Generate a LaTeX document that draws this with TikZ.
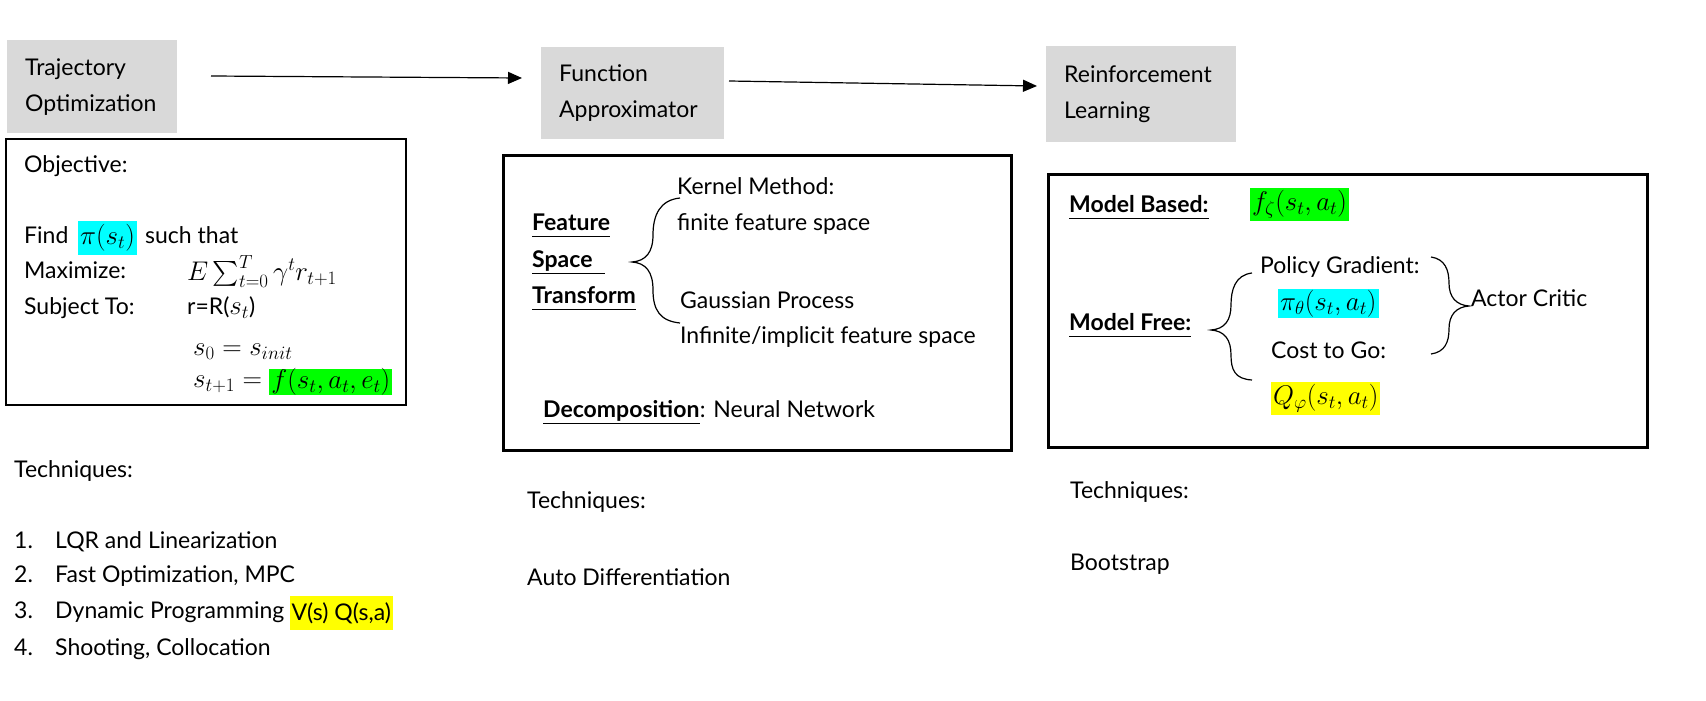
\RequirePackage{fix-cm}
\documentclass[tikz,border=0pt]{standalone}
\usepackage{amsmath}
\usepackage[no-math]{fontspec}
\setmainfont{Lato}
\usetikzlibrary{arrows.meta,positioning}

\definecolor{boxgray}{HTML}{D9D9D9}
\definecolor{hlcyan}{HTML}{00FFFF}
\definecolor{hlgreen}{HTML}{00FF00}
\definecolor{hlyellow}{HTML}{FFFF00}
\newcommand{\mainsize}{\fontsize{23}{36}\selectfont}
\newcommand{\mathsize}{\fontsize{27}{36}\selectfont}

\begin{document}
\begin{tikzpicture}[x=1pt,y=-1pt,font=\mainsize,
	txt/.style={anchor=west, inner sep=0pt, text height=16pt, text depth=5pt},
	bold/.style={txt, font=\mainsize\bfseries},
	mth/.style={txt, font=\mathsize},
	head/.style={fill=boxgray, anchor=north west, inner xsep=18pt, inner ysep=0pt, align=left},
	hl/.style={fill=#1, anchor=west, inner xsep=2pt, inner ysep=0pt},
	flow/.style={line width=1.2pt, -{Triangle[length=14pt,width=12pt]}},
	frame/.style={line width=#1},
	brace/.style={line width=1.2pt},
	ul/.style={line width=1.2pt}]

	\useasboundingbox (0,0) rectangle (1706,701);

	% headings
	\node[head, text width=134pt, minimum width=170pt, minimum height=93pt] (traj) at (7,40) {Trajectory\\Optimization};
	\node[head, text width=147pt, minimum width=183pt, minimum height=92pt] (func) at (541,47) {Function\\Approximator};
	\node[head, text width=154pt, minimum width=190pt, minimum height=96pt] (rl) at (1046,46) {Reinforcement\\Learning};

	% arrows between headings
	\coordinate (a1s) at (211,76);
	\coordinate (a1e) at (522,78);
	\coordinate (a2s) at (729,81);
	\coordinate (a2e) at (1037,86);
	\draw[flow] (a1s) -- (a1e);
	\draw[flow] (a2s) -- (a2e);

	% frames
	\draw[frame=2pt] (6,139) rectangle (406,405);
	\draw[frame=3pt] (503,155) rectangle (1011,450);
	\draw[frame=3pt] (1048,174) rectangle (1647,447);

	% trajectory optimization
	\node[txt] (obj) at (24,167) {Objective:};
	\node[txt] (find) at (24,238) {Find};
	\node[hl=hlcyan, font=\mathsize, minimum width=55pt, minimum height=34pt] (pis) at (78,238) {$\pi(s_t)$};
	\node[txt] (such) at (145,238) {such that};
	\node[txt] (maxi) at (24,273) {Maximize:};
	\node[mth] (ret) at (187,275) {$E\sum_{t=0}^{T}\gamma^{t}r_{t+1}$};
	\node[txt] (subj) at (24,309) {Subject To:};
	\node[txt] (rew) at (187,309) {r=R(\mathsize$s_t$\mainsize)};
	\node[mth] (init) at (193,350) {$s_0 = s_{init}$};
	\node[mth] (next) at (193,382) {$s_{t+1} =$};
	\node[hl=hlgreen, font=\mathsize, minimum height=23pt, right=7pt of next] (dyn) {$f(s_t,a_t,e_t)$};

	\node[txt] (tech1) at (14,472) {Techniques:};
	\foreach \n/\t/\y in {1/LQR and Linearization/543, 2/{Fast Optimization, MPC}/577,
		3/Dynamic Programming/613, 4/{Shooting, Collocation}/650}
	{
		\node[txt] (num\n) at (14,\y) {\n.};
		\node[txt] (item\n) at (55,\y) {\t};
	}
	\node[hl=hlyellow, minimum height=34pt, right=5pt of item3] (vq) {V(s) Q(s,a)};

	% function approximator
	\node[bold] (feat) at (532,225) {Feature};
	\node[bold] (space) at (532,262) {Space};
	\node[bold] (trans) at (532,298) {Transform};
	\draw[ul] ([yshift=-1pt]feat.south west) -- ([yshift=-1pt]feat.south east);
	\draw[ul] ([yshift=-1pt]space.south west) -- ([xshift=12pt,yshift=-1pt]space.south east);
	\draw[ul] ([yshift=-1pt]trans.south west) -- ([yshift=-1pt]trans.south east);

	\draw[brace] (680,198) .. controls (660,200) and (653,215) .. (653,235)
		.. controls (653,252) and (646,261) .. (632,262)
		.. controls (646,263) and (653,272) .. (653,290)
		.. controls (653,310) and (660,321) .. (680,323);

	\node[txt] (kern) at (677,189) {Kernel Method:};
	\node[txt] (finite) at (677,225) {finite feature space};
	\node[txt] (gauss) at (680,303) {Gaussian Process};
	\node[txt] (infin) at (680,338) {Infinite/implicit feature space};

	\node[bold] (decomp) at (543,412) {Decomposition};
	\node[txt, right=0pt of decomp] (nn) {: Neural Network};
	\draw[ul] ([yshift=-1pt]decomp.south west) -- ([yshift=-1pt]decomp.south east);

	\node[txt] (tech2) at (527,503) {Techniques:};
	\node[txt] (autod) at (527,580) {Auto Differentiation};

	% reinforcement learning
	\node[bold] (mbased) at (1069,207) {Model Based:};
	\draw[ul] ([yshift=-1pt]mbased.south west) -- ([yshift=-1pt]mbased.south east);
	\node[hl=hlgreen, font=\mathsize, minimum width=90pt, minimum height=33pt] (fz) at (1250,204.5) {$f_\zeta(s_t,a_t)$};

	\node[bold] (mfree) at (1069,325) {Model Free:};
	\draw[ul] ([yshift=-1pt]mfree.south west) -- ([yshift=-1pt]mfree.south east);

	\draw[brace] (1252,273) .. controls (1235,275) and (1231,290) .. (1231,305)
		.. controls (1231,320) and (1225,329) .. (1211,330)
		.. controls (1225,331) and (1231,340) .. (1231,355)
		.. controls (1231,370) and (1235,379) .. (1252,380);

	\node[txt] (policy) at (1260,268) {Policy Gradient:};
	\node[hl=hlcyan, font=\mathsize, minimum width=98pt, minimum height=29pt] (pith) at (1278,303.5) {$\pi_\theta(s_t,a_t)$};
	\node[txt] (cost) at (1271,353) {Cost to Go:};
	\node[hl=hlyellow, font=\mathsize, minimum width=102pt, minimum height=33pt] (qphi) at (1271,398.5) {$Q_\varphi(s_t,a_t)$};

	\draw[brace] (1431,257) .. controls (1445,259) and (1449,270) .. (1449,283)
		.. controls (1449,297) and (1456,305) .. (1469,306)
		.. controls (1456,307) and (1449,315) .. (1449,329)
		.. controls (1449,342) and (1445,352) .. (1431,354);
	\node[txt] (actor) at (1471,301) {Actor Critic};

	\node[txt] (tech3) at (1070,493) {Techniques:};
	\node[txt] (boot) at (1070,565) {Bootstrap};

\end{tikzpicture}
\end{document}
